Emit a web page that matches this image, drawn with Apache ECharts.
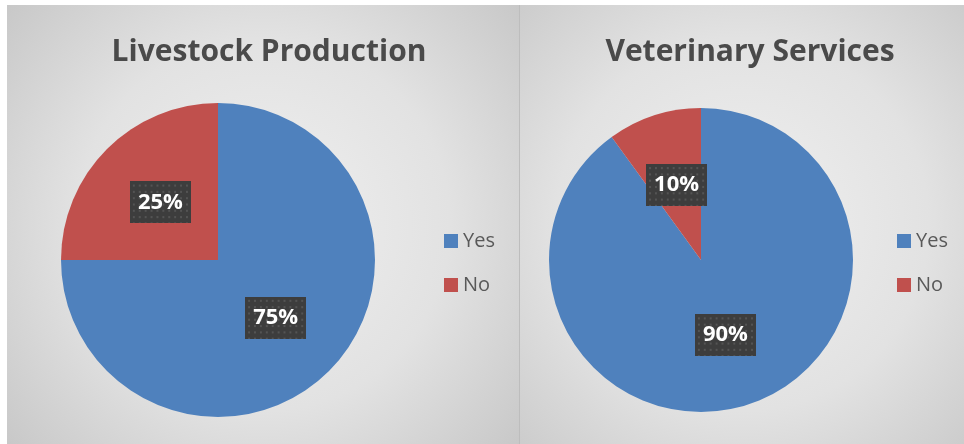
<!DOCTYPE html>
<html>
<head>
<meta charset="utf-8">
<script src="https://cdn.jsdelivr.net/npm/echarts@6/dist/echarts.min.js"></script>
<style>
  html, body { margin: 0; padding: 0; background: #fff; }
  #chart { width: 964px; height: 444px; }
</style>
</head>
<body>
<div id="chart"></div>
<script>
const categories = ['Yes', 'No'];
const livestockValues = [75, 25];
const veterinaryValues = [90, 10];
const chartTitles = ['Livestock Production', 'Veterinary Services'];
const colors = ['#4F81BD', '#C0504D'];

// dotted dark tile for the data label boxes
function dotTile(w, h) {
  const c = document.createElement('canvas');
  c.width = w;
  c.height = h;
  const ctx = c.getContext('2d');
  ctx.fillStyle = '#3d3d3d';
  ctx.fillRect(0, 0, w, h);
  ctx.fillStyle = '#545454';
  for (let y = 3; y < h; y += 6) {
    for (let x = 3; x < w; x += 6) {
      ctx.fillRect(x, y, 2, 2);
    }
  }
  return c;
}
const tile = dotTile(62, 40);

function panelBg(x, w) {
  return {
    type: 'rect',
    shape: { x: x, y: 5, width: w, height: 439 },
    style: {
      fill: {
        type: 'radial', x: 0.5, y: 0.5, r: 0.85,
        colorStops: [
          { offset: 0, color: '#f0f0f0' },
          { offset: 0.5, color: '#e2e2e2' },
          { offset: 1, color: '#c2c2c2' }
        ]
      }
    },
    z: -10
  };
}

function pieSeries(name, values, cx, r) {
  return {
    name: name,
    type: 'pie',
    center: [cx, 260],
    radius: r,
    startAngle: 90,
    clockwise: true,
    silent: true,
    itemStyle: { borderWidth: 0 },
    label: {
      show: true,
      position: 'inside',
      formatter: '{d}%',
      color: '#fff',
      fontFamily: 'Open Sans',
      fontWeight: 'bold',
      fontSize: 22,
      lineHeight: 26,
      padding: [8, 8, 8, 8],
      backgroundColor: { image: tile },
      shadowColor: 'rgba(0,0,0,0.5)',
      shadowBlur: 5,
      shadowOffsetX: 2,
      shadowOffsetY: 3
    },
    labelLine: { show: false },
    data: categories.map((c, i) => ({
      name: c,
      value: values[i],
      itemStyle: { color: colors[i] }
    }))
  };
}

const legendBase = {
  orient: 'vertical',
  top: 226,
  itemWidth: 14,
  itemHeight: 14,
  itemGap: 24,
  icon: 'rect',
  selectedMode: false,
  textStyle: { color: '#595959', fontSize: 20, fontFamily: 'Open Sans' },
  data: categories
};

const titleStyle = { color: '#4a4a4a', fontSize: 30, fontWeight: 'bold', fontFamily: 'Open Sans' };

const chart = echarts.init(document.getElementById('chart'));
chart.setOption({
  animation: false,
  backgroundColor: '#fff',
  graphic: [
    panelBg(7, 513),
    panelBg(520, 444),
    {
      type: 'line',
      shape: { x1: 519.5, y1: 5, x2: 519.5, y2: 444 },
      style: { stroke: '#bdbdbd', lineWidth: 1 },
      z: -5
    }
  ],
  title: [
    { text: chartTitles[0], left: 264, top: 32, textAlign: 'center', textStyle: titleStyle },
    { text: chartTitles[1], left: 745, top: 32, textAlign: 'center', textStyle: titleStyle }
  ],
  legend: [
    Object.assign({}, legendBase, { left: 439 }),
    Object.assign({}, legendBase, { left: 892 })
  ],
  series: [
    pieSeries(chartTitles[0], livestockValues, 218, 157),
    pieSeries(chartTitles[1], veterinaryValues, 701, 152)
  ]
});
</script>
</body>
</html>
